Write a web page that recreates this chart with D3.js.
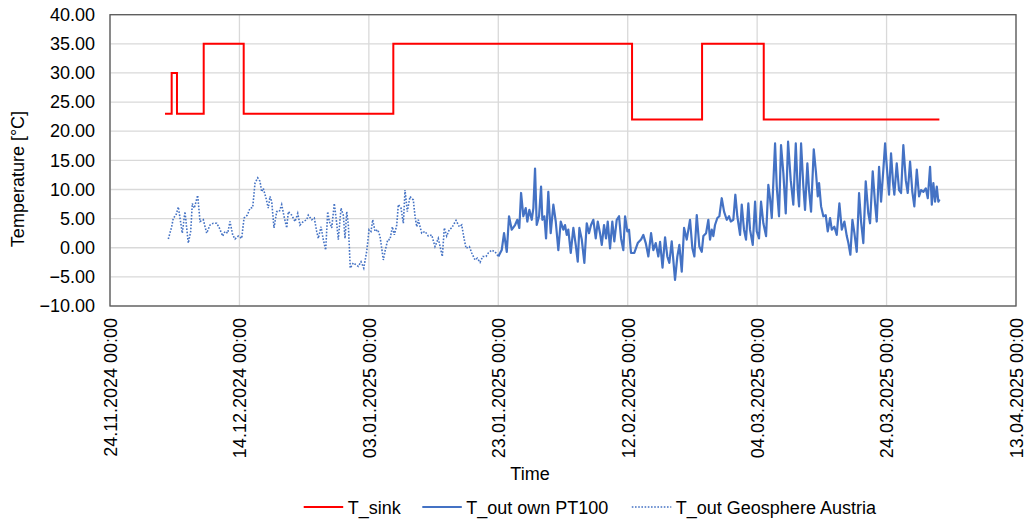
<!DOCTYPE html>
<html><head><meta charset="utf-8">
<script src="https://cdn.jsdelivr.net/npm/d3@7"></script>
<style>body{margin:0;background:#fff}svg{display:block}text{font-family:"Liberation Sans",Arial,sans-serif;fill:#000}</style>
</head><body>
<script>
// ---- data ----
const startDate = "24.11.2024 00:00";
const tickLabels = ["24.11.2024 00:00","14.12.2024 00:00","03.01.2025 00:00","23.01.2025 00:00","12.02.2025 00:00","04.03.2025 00:00","24.03.2025 00:00","13.04.2025 00:00"];
const yTicks = [-10,-5,0,5,10,15,20,25,30,35,40];
const seriesNames = ["T_sink","T_out own PT100","T_out Geosphere Austria"];

// T_sink: step changes (days since start, value)
const sinkDays = [8.5, 9.53, 10.35, 14.48, 20.66, 43.78, 80.67, 91.49, 101.02, 128.16];
const sinkVals = [23, 30, 23, 35, 23, 35, 22, 35, 22, 22];

// T_out Geosphere Austria (days since start, value)
const geoDays = [9.01,9.53,9.78,10.2,10.56,10.82,11.17,11.59,11.85,12.1,12.47,12.72,13.03,13.55,13.91,14.42,14.94,15.45,15.96,16.49,16.89,17.42,17.77,18.19,18.54,18.96,19.32,19.83,20.35,20.71,21.22,21.64,22.05,22.41,22.83,23.18,23.44,23.69,24.11,24.46,24.73,24.99,25.34,25.76,26.16,26.53,26.89,27.31,27.55,28.08,28.59,29.01,29.36,29.87,30.4,30.64,31.17,31.57,31.94,32.19,32.61,32.96,33.33,33.64,33.89,34.26,34.66,35.03,35.28,35.7,36.05,36.32,36.58,36.83,37.13,37.6,37.97,38.37,38.79,39.21,39.67,40.03,40.33,40.6,40.95,41.37,41.72,42.24,42.5,42.92,43.27,43.63,43.94,44.31,44.55,44.97,45.33,45.59,45.94,46.36,46.87,47.13,47.4,47.64,48.17,48.68,49.19,49.71,50.22,50.73,51.35,51.66,52.03,52.43,52.8,53.47,53.98,54.35,54.71,55.02,55.53,55.9,56.41,56.76,57.18,57.6,58.11,58.46,58.99,59.5,60.01];
const geoVals = [1.5,3.6,5.1,5.6,7.0,5.1,2.5,6.2,3.4,0.8,2.8,7.6,6.8,9.0,4.5,4.8,2.5,3.9,4.2,4.2,3.4,2.0,2.8,2.5,4.5,2.2,1.5,2.0,1.6,5.1,5.6,6.8,6.9,11.1,12.0,11.4,9.6,10.2,8.5,6.8,8.8,7.9,3.4,6.2,6.2,7.4,5.4,3.4,6.2,5.6,4.5,5.9,3.9,4.5,4.8,5.6,4.8,5.1,2.8,1.6,3.6,1.4,-0.4,6.2,4.5,3.4,7.6,4.2,1.4,6.8,5.6,1.6,6.2,3.9,-3.5,-2.6,-2.9,-3.2,-2.4,-3.5,-0.6,3.1,2.8,4.8,2.8,3.1,2.0,-2.1,-0.6,1.4,1.4,3.6,2.2,3.9,7.4,6.8,4.2,9.9,6.2,8.8,8.2,5.4,3.6,4.8,2.5,2.8,2.0,2.2,0.2,1.6,-1.5,3.4,2.0,3.1,3.4,4.7,3.6,3.9,1.6,-0.1,0.2,-0.9,-2.1,-1.8,-2.5,-1.5,-1.5,-0.9,-0.4,-0.7,-1.5];

// T_out own PT100 (days since start, value)
const ownDays = [60.01,60.53,60.89,61.31,61.66,62.08,62.59,62.94,63.25,63.52,63.87,64.24,64.49,64.8,65.17,65.42,65.68,65.94,66.3,66.61,66.81,67.12,67.38,67.73,68.1,68.51,68.88,69.28,69.65,70.05,70.31,70.58,70.82,71.2,71.6,71.97,72.28,72.53,72.9,73.3,73.67,74.02,74.33,74.69,75.06,75.37,75.72,75.99,76.34,76.65,76.91,77.27,77.62,77.93,78.3,78.66,78.97,79.32,79.59,79.94,80.2,80.51,81.02,81.55,82.06,82.41,82.79,83.19,83.61,83.96,84.33,84.73,85.0,85.38,85.77,86.12,86.43,86.8,87.31,87.67,87.98,88.35,88.71,89.12,89.63,89.99,90.3,90.67,91.07,91.44,91.69,92.11,92.46,92.72,92.99,93.23,93.49,93.85,94.16,94.53,94.89,95.3,95.66,95.92,96.32,96.63,96.94,97.36,97.62,97.97,98.28,98.64,98.9,99.32,99.68,99.94,100.29,100.6,100.96,101.38,101.73,101.99,102.26,102.5,102.77,103.03,103.38,103.69,104.05,104.42,104.78,105.19,105.59,105.97,106.27,106.48,106.79,107.14,107.4,107.76,108.02,108.33,108.75,109.1,109.37,109.57,109.88,110.23,110.6,110.91,111.27,111.53,111.93,112.3,112.71,113.08,113.48,113.85,114.1,114.41,114.72,115.03,115.39,115.75,116.06,116.41,116.78,117.18,117.45,117.86,118.22,118.48,118.84,119.15,119.5,119.77,120.07,120.38,120.69,121.0,121.2,121.57,121.93,122.24,122.59,122.97,123.27,123.63,123.98,124.29,124.67,125.02,125.33,125.69,126.06,126.37,126.72,126.99,127.23,127.49,127.76,128.0,128.19];
const ownVals = [-1.5,-0.4,2.5,-0.7,5.4,3.1,3.9,4.8,3.4,9.4,5.4,6.8,4.5,6.5,4.8,6.8,13.6,3.9,5.4,10.5,4.8,5.4,1.6,9.6,2.5,7.4,4.5,-0.4,4.5,3.1,3.9,2.2,3.1,-0.9,3.4,0.5,-2.4,3.4,1.4,-2.6,4.2,2.5,3.9,4.8,1.6,4.5,2.5,0.5,3.9,1.6,4.5,-0.1,4.5,1.1,4.8,5.4,1.6,-0.4,5.4,2.8,3.1,-0.9,-0.9,0.8,1.4,2.2,0.8,-1.5,2.5,-0.4,0.8,-1.5,1.0,-3.4,1.8,-1.5,-2.6,1.1,-5.5,-1.5,0.5,-4.1,3.4,1.4,4.8,-0.1,-1.5,5.6,0.2,-0.7,2.0,2.5,4.8,1.4,3.1,2.0,3.9,5.1,5.4,8.5,6.2,4.8,5.4,4.5,4.8,9.1,5.4,2.2,7.4,3.1,1.4,7.6,3.1,0.5,7.9,2.8,1.6,7.9,4.2,2.0,10.8,8.5,5.1,11.1,17.9,10.5,5.4,17.6,12.8,5.9,18.2,11.6,7.4,17.9,9.9,7.1,17.9,10.5,6.5,14.5,9.9,6.2,16.9,12.8,8.8,11.1,7.1,5.4,5.6,2.8,5.1,3.1,3.6,2.2,7.6,3.1,4.5,2.0,0.8,-1.2,4.8,2.5,-0.7,9.4,4.5,0.8,11.4,5.9,4.2,13.1,7.6,4.5,13.9,7.9,13.4,17.9,13.4,9.1,16.2,11.1,9.1,14.5,9.9,9.4,17.6,11.6,9.4,14.8,9.6,7.1,13.4,8.8,9.9,9.6,10.2,8.5,13.9,7.4,11.1,7.9,10.5,7.9,8.3];

// ---- chart ----
const W = 1024, H = 519;
const m = {left:110, right:1016, top:14.7, bottom:306};
const parse = d3.utcParse("%d.%m.%Y %H:%M");
const t0 = parse(startDate);
const toDate = d => new Date(t0.getTime() + d*864e5);
const tickDates = tickLabels.map(parse);

const x = d3.scaleUtc().domain([tickDates[0], tickDates[tickDates.length-1]]).range([m.left, m.right]);
const y = d3.scaleLinear().domain([-10,40]).range([m.bottom, m.top]);

const svg = d3.select("body").append("svg").attr("width",W).attr("height",H);

// gridlines
svg.append("g").selectAll("line").data(yTicks).join("line")
  .attr("x1",m.left).attr("x2",m.right).attr("y1",d=>y(d)).attr("y2",d=>y(d))
  .attr("stroke","#d9d9d9").attr("stroke-width",1.3);
svg.append("g").selectAll("line").data(tickDates).join("line")
  .attr("x1",d=>x(d)).attr("x2",d=>x(d)).attr("y1",m.top).attr("y2",m.bottom)
  .attr("stroke","#d9d9d9").attr("stroke-width",1.3);

// axes (labels only)
const yAxis = svg.append("g").attr("transform",`translate(${m.left},0)`)
  .call(d3.axisLeft(y).tickValues(yTicks).tickFormat(d3.format(".2f")).tickSize(0).tickPadding(15));
yAxis.select(".domain").remove();
yAxis.selectAll("text").attr("font-size",18).attr("font-family","Liberation Sans, Arial, sans-serif").attr("fill","#000");

const xAxis = svg.append("g").attr("transform",`translate(0,${m.bottom})`)
  .call(d3.axisBottom(x).tickValues(tickDates).tickFormat((d,i)=>tickLabels[i]).tickSize(0));
xAxis.select(".domain").remove();
xAxis.selectAll("text").attr("font-size",18).attr("font-family","Liberation Sans, Arial, sans-serif").attr("fill","#000")
  .attr("text-anchor","end").attr("dy","0.35em").attr("transform","translate(0,12) rotate(-90)").attr("x",0).attr("y",0);

// plot frame
svg.append("rect").attr("x",m.left).attr("y",m.top).attr("width",m.right-m.left).attr("height",m.bottom-m.top)
  .attr("fill","none").attr("stroke","#595959").attr("stroke-width",1.3);

// lines
const line = d3.line().x(d=>x(d[0])).y(d=>y(d[1]));
const geo = geoDays.map((d,i)=>[toDate(d), geoVals[i]]);
const own = ownDays.map((d,i)=>[toDate(d), ownVals[i]]);
const sink = sinkDays.map((d,i)=>[toDate(d), sinkVals[i]]);

svg.append("path").datum(geo).attr("d",line).attr("fill","none").attr("stroke","#4472c4")
  .attr("stroke-width",1.6).attr("stroke-dasharray","1.6,1.6");
svg.append("path").datum(own).attr("d",line).attr("fill","none").attr("stroke","#4472c4")
  .attr("stroke-width",2.2).attr("stroke-linejoin","round");
svg.append("path").datum(sink).attr("d",d3.line().x(d=>x(d[0])).y(d=>y(d[1])).curve(d3.curveStepAfter))
  .attr("fill","none").attr("stroke","#ff0000").attr("stroke-width",2);

// axis titles
svg.append("text").attr("x",530).attr("y",480).attr("text-anchor","middle").attr("font-size",18).text("Time");
svg.append("text").attr("transform","translate(24,179) rotate(-90)").attr("text-anchor","middle").attr("font-size",18).text("Temperature [°C]");

// legend
const legX = [303.7, 422.3, 631.8];
const legStyles = [{c:"#ff0000",w:2,da:null},{c:"#4472c4",w:2.2,da:null},{c:"#4472c4",w:1.6,da:"1.6,1.6"}];
const lg = svg.append("g");
seriesNames.forEach((n,i)=>{
  lg.append("line").attr("x1",legX[i]).attr("x2",legX[i]+39.5).attr("y1",507).attr("y2",507)
    .attr("stroke",legStyles[i].c).attr("stroke-width",legStyles[i].w).attr("stroke-dasharray",legStyles[i].da);
  lg.append("text").attr("x",legX[i]+44).attr("y",513.5).attr("font-size",18).text(n);
});
</script>
</body></html>
